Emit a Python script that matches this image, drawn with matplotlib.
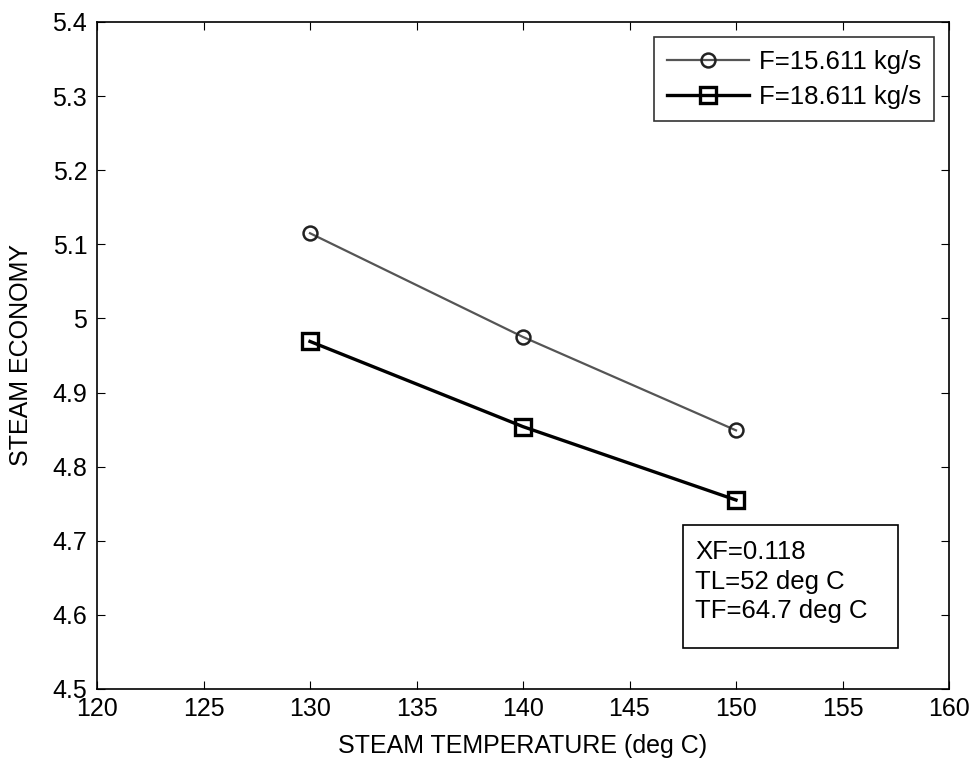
import matplotlib
matplotlib.use("Agg")
import matplotlib.pyplot as plt
from matplotlib.patches import Rectangle

plt.rcParams['font.family'] = ['Liberation Sans', 'DejaVu Sans']

temps = [130, 140, 150]
econ_f15 = [5.115, 4.975, 4.849]
econ_f18 = [4.969, 4.854, 4.755]
labels = ["F=15.611 kg/s", "F=18.611 kg/s"]
xticks = [120, 125, 130, 135, 140, 145, 150, 155, 160]
yticks = [4.5, 4.6, 4.7, 4.8, 4.9, 5.0, 5.1, 5.2, 5.3, 5.4]
ytick_labels = ["4.5", "4.6", "4.7", "4.8", "4.9", "5", "5.1", "5.2", "5.3", "5.4"]
note_lines = ["XF=0.118", "TL=52 deg C", "TF=64.7 deg C"]

W, H = 973, 759
fig = plt.figure(figsize=(W / 100, H / 100), dpi=100)
ax = fig.add_axes([97 / W, (H - 689) / H, 852 / W, 667 / H])

ax.plot(temps, econ_f15, color='#555555', lw=1.6, marker='o', ms=10,
        mfc='none', mec='#222222', mew=1.8, label=labels[0])
ax.plot(temps, econ_f18, color='black', lw=2.4, marker='s', ms=11,
        mfc='none', mec='black', mew=2.4, label=labels[1])

ax.set_xlim(120, 160)
ax.set_ylim(4.5, 5.4)
ax.set_xticks(xticks)
ax.set_yticks(yticks)
ax.set_yticklabels(ytick_labels)
ax.tick_params(direction='in', length=6, labelsize=18, top=True, right=True)
ax.tick_params(axis='x', pad=6)
ax.tick_params(axis='y', pad=7)
for s in ax.spines.values():
    s.set_linewidth(1.2)

ax.set_xlabel("STEAM TEMPERATURE (deg C)", fontsize=18, labelpad=9)
ax.set_ylabel("STEAM ECONOMY", fontsize=18, labelpad=14)

leg = ax.legend(loc='upper right', fontsize=18.5, frameon=True, fancybox=False,
                edgecolor='black', handlelength=3.2, handletextpad=0.4,
                borderpad=0.5, labelspacing=0.42, borderaxespad=0,
                bbox_to_anchor=(934 / W, 1 - 37 / H),
                bbox_transform=fig.transFigure)
leg.get_frame().set_linewidth(1.2)

# annotation box
fig.patches.append(Rectangle((683 / W, 1 - 648 / H), 215 / W, 123 / H,
                             transform=fig.transFigure, fc='white', ec='black',
                             lw=1.2, zorder=5))
fig.text(695 / W, 1 - 540 / H, "\n".join(note_lines), fontsize=18.5,
         va='top', ha='left', linespacing=1.3, zorder=6)

fig.savefig("out.png", dpi=100)
